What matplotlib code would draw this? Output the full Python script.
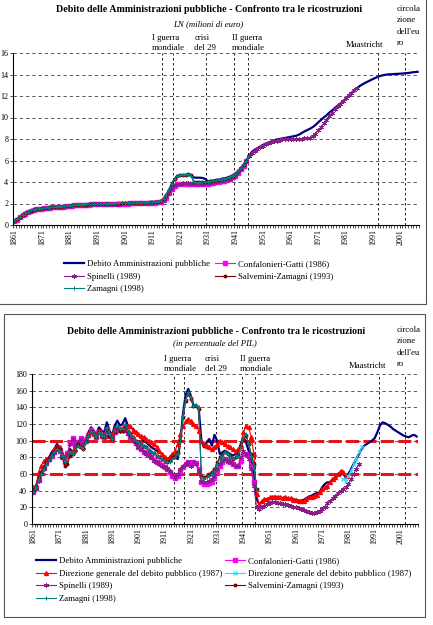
import matplotlib
matplotlib.use("Agg")
import matplotlib.pyplot as plt
import numpy as np
from matplotlib.patches import Rectangle

plt.rcParams['font.family'] = 'Liberation Serif'

W, H = 433, 625

# ---- data: top chart, LN (milioni di euro) ----
ln_debito_start = 1861
ln_debito = [
    0.40, 0.55, 0.75, 0.95, 1.10, 1.25, 1.35, 1.42, 1.48, 1.53,   # 1861-1870
    1.56, 1.58, 1.62, 1.64, 1.66, 1.68, 1.70, 1.72, 1.75, 1.78,   # 1871-1880
    1.80, 1.83, 1.86, 1.88, 1.89, 1.90, 1.91, 1.92, 1.93, 1.94,   # 1881-1890
    1.95, 1.96, 1.97, 1.98, 1.99, 2.00, 2.00, 2.01, 2.01, 2.02,   # 1891-1900
    2.03, 2.04, 2.05, 2.05, 2.06, 2.06, 2.07, 2.08, 2.09, 2.11,   # 1901-1910
    2.13, 2.15, 2.18, 2.25, 2.45, 2.80, 3.25, 3.80, 4.25, 4.55,   # 1911-1920
    4.62, 4.65, 4.66, 4.68, 4.65, 4.42, 4.40, 4.40, 4.38, 4.30,   # 1921-1930
    4.08, 4.10, 4.14, 4.18, 4.22, 4.28, 4.34, 4.40, 4.50, 4.62,   # 1931-1940
    4.78, 5.00, 5.30, 5.62, 6.00, 6.45, 6.80, 7.00, 7.15, 7.30,   # 1941-1950
    7.45, 7.58, 7.68, 7.78, 7.88, 7.95, 8.00, 8.05, 8.10, 8.15,   # 1951-1960
    8.20, 8.25, 8.30, 8.40, 8.55, 8.70, 8.82, 8.95, 9.10, 9.30,   # 1961-1970
    9.55, 9.78, 10.00, 10.20, 10.45, 10.65, 10.88, 11.10, 11.30, 11.50,  # 1971-1980
    11.75, 12.00, 12.25, 12.50, 12.72, 12.92, 13.08, 13.22, 13.35, 13.48,  # 1981-1990
    13.60, 13.72, 13.82, 13.90, 13.96, 14.00, 14.02, 14.04, 14.05, 14.06,  # 1991-2000
    14.08, 14.10, 14.12, 14.15, 14.20, 14.23, 14.25,                      # 2001-2007
]
ln_cg_start = 1861
ln_cg = [
    0.36, 0.50, 0.70, 0.90, 1.06, 1.20, 1.31, 1.38, 1.45, 1.50,
    1.53, 1.56, 1.59, 1.62, 1.64, 1.66, 1.68, 1.70, 1.72, 1.75,
    1.77, 1.80, 1.83, 1.85, 1.86, 1.87, 1.88, 1.90, 1.91, 1.92,
    1.93, 1.94, 1.95, 1.95, 1.96, 1.97, 1.97, 1.98, 1.98, 1.99,
    2.00, 2.00, 2.01, 2.01, 2.02, 2.02, 2.03, 2.04, 2.05, 2.06,
    2.07, 2.09, 2.11, 2.15, 2.28, 2.55, 2.95, 3.35, 3.62, 3.78,
    3.82, 3.84, 3.84, 3.83, 3.82, 3.80, 3.80, 3.81, 3.82, 3.84,
    3.86, 3.89, 3.93, 3.97, 4.02, 4.07, 4.13, 4.19, 4.28, 4.44,
    4.60, 4.85, 5.18, 5.52, 5.92,
]
ln_spinelli_start = 1861
ln_spinelli = [
    0.38, 0.52, 0.72, 0.92, 1.08, 1.22, 1.33, 1.40, 1.47, 1.52,
    1.55, 1.58, 1.61, 1.64, 1.66, 1.68, 1.70, 1.72, 1.74, 1.77,
    1.79, 1.82, 1.85, 1.87, 1.88, 1.89, 1.90, 1.92, 1.93, 1.94,
    1.95, 1.96, 1.97, 1.97, 1.98, 1.99, 1.99, 2.00, 2.00, 2.01,
    2.02, 2.02, 2.03, 2.03, 2.04, 2.04, 2.05, 2.06, 2.07, 2.08,
    2.09, 2.11, 2.13, 2.18, 2.32, 2.60, 3.00, 3.40, 3.68, 3.82,
    3.86, 3.88, 3.88, 3.87, 3.86, 3.84, 3.84, 3.85, 3.86, 3.87,
    3.89, 3.92, 3.96, 4.00, 4.05, 4.10, 4.16, 4.22, 4.32, 4.48,
    4.65, 4.90, 5.22, 5.58, 5.98, 6.40, 6.72, 6.92, 7.08, 7.22,
    7.36, 7.50, 7.62, 7.72, 7.80, 7.86, 7.92, 7.96, 7.98, 8.00,
    8.01, 8.02, 8.02, 8.03, 8.04, 8.06, 8.08, 8.12, 8.25, 8.50,
    8.80, 9.10, 9.45, 9.80, 10.10, 10.45, 10.75, 11.05, 11.30, 11.55,
    11.80, 12.05, 12.30, 12.55, 12.78,
]
ln_sz_start = 1861
ln_sz = [
    0.39, 0.54, 0.74, 0.94, 1.09, 1.24, 1.34, 1.41, 1.47, 1.52,
    1.55, 1.57, 1.61, 1.63, 1.65, 1.67, 1.69, 1.71, 1.74, 1.77,
    1.79, 1.82, 1.85, 1.87, 1.88, 1.89, 1.90, 1.91, 1.92, 1.93,
    1.94, 1.95, 1.96, 1.97, 1.98, 1.99, 1.99, 2.00, 2.00, 2.01,
    2.02, 2.03, 2.04, 2.04, 2.05, 2.05, 2.06, 2.07, 2.08, 2.10,
    2.12, 2.14, 2.17, 2.24, 2.44, 2.80, 3.25, 3.82, 4.30, 4.58,
    4.64, 4.66, 4.68, 4.70, 4.62, 3.98, 3.96, 3.96, 3.97, 3.99,
    4.02, 4.06, 4.10, 4.15, 4.20, 4.26, 4.32, 4.38, 4.48, 4.60,
    4.76, 4.98, 5.28, 5.60, 5.98, 6.42,
]
ln_zamagni_start = 1861
ln_zamagni = [
    0.40, 0.55, 0.75, 0.95, 1.10, 1.25, 1.35, 1.42, 1.48, 1.53,
    1.56, 1.58, 1.62, 1.64, 1.66, 1.68, 1.70, 1.72, 1.75, 1.78,
    1.80, 1.83, 1.86, 1.88, 1.89, 1.90, 1.91, 1.92, 1.93, 1.94,
    1.95, 1.96, 1.97, 1.98, 1.99, 2.00, 2.00, 2.01, 2.01, 2.02,
    2.03, 2.04, 2.05, 2.05, 2.06, 2.06, 2.07, 2.08, 2.09, 2.11,
    2.13, 2.15, 2.18, 2.25, 2.45, 2.82, 3.28, 3.84, 4.32, 4.60,
    4.65, 4.67, 4.69, 4.70, 4.60, 3.96, 3.95, 3.95, 3.96, 3.98,
    4.01, 4.05, 4.09, 4.14, 4.19, 4.25, 4.31, 4.37, 4.47, 4.60,
    4.76, 4.98, 5.28, 5.60, 5.98, 6.42,
]

# ---- data: bottom chart, in percentuale del PIL ----
pil_debito_start = 1861
pil_debito = [
    39, 45, 55, 62, 68, 75, 80, 86, 90, 96,          # 1861-1870
    92, 86, 78, 84, 90, 86, 92, 98, 94, 92,          # 1871-1880
    102, 110, 116, 112, 108, 116, 112, 110, 122, 112,  # 1881-1890
    106, 118, 124, 118, 120, 127, 118, 116, 114, 110,  # 1891-1900
    106, 104, 100, 98, 95, 92, 90, 88, 86, 84,       # 1901-1910
    80, 78, 80, 84, 80, 78, 100, 132, 155, 162,      # 1911-1920
    154, 142, 143, 138, 100, 92, 98, 102, 94, 107,   # 1921-1930
    100, 84, 86, 88, 86, 84, 82, 84, 86, 96,         # 1931-1940
    104, 98, 88, 76, 56, 30, 24, 26, 28, 30,         # 1941-1950
    30, 32, 33, 32, 31, 31, 32, 30, 30, 30,          # 1951-1960
    29, 28, 28, 29, 31, 33, 34, 36, 37, 38,          # 1961-1970
    44, 48, 50, 50, 54, 56, 58, 60, 60, 56,          # 1971-1980
    60, 66, 72, 78, 84, 90, 94, 96, 98, 100,         # 1981-1990
    103, 110, 118, 122, 121, 119, 117, 114, 112, 110,  # 1991-2000
    108, 106, 105, 104, 106, 107, 105,               # 2001-2007
]
pil_cg_start = 1861
pil_cg = [
    38, 43, 53, 61, 67, 73, 78, 82, 86, 91,
    88, 81, 75, 85, 97, 103, 95, 99, 103, 97,
    101, 107, 113, 109, 105, 111, 107, 105, 113, 107,
    105, 111, 115, 113, 113, 115, 109, 105, 101, 97,
    93, 90, 87, 85, 83, 81, 77, 75, 73, 71,
    69, 66, 62, 58, 55, 58, 64, 68, 72, 75,
    72, 75, 73, 66, 50, 48, 48, 49, 50, 55,
    64, 70, 74, 78, 76, 74, 72, 70, 70, 76,
    84, 84, 82, 70, 50,
]
pil_dgdp_start = 1861
pil_dgdp = [
    44, 44, 62, 70, 76, 78, 78, 84, 90, 94,
    92, 84, 76, 82, 86, 88, 90, 96, 94, 92,
    100, 108, 110, 108, 108, 112, 106, 108, 112, 106,
    108, 114, 116, 114, 116, 118, 118, 118, 112, 110,
    108, 106, 104, 102, 100, 98, 96, 92, 88, 84,
    80, 78, 80, 84, 88, 96, 108, 118, 124, 126,
    124, 120, 118, 112, 100, 96, 94, 92, 90, 92,
    96, 100, 98, 96, 94, 92, 90, 88, 90, 94,
    110, 118, 116, 104, 84, 36, 24, 28, 30, 30,
    32, 32, 33, 32, 32, 31, 32, 31, 31, 29,
    29, 28, 28, 28, 30, 32, 33, 34, 35, 38,
    42, 44, 46, 50, 54, 56, 60, 64, 63, 58,
]
pil_dgdp_b_start = 1979
pil_dgdp_b = [54, 52, 58, 64, 72, 78, 86, 92]
pil_spinelli_start = 1861
pil_spinelli = [
    38, 42, 52, 60, 66, 72, 78, 82, 86, 90,
    88, 80, 74, 84, 96, 102, 94, 98, 102, 96,
    100, 106, 112, 108, 104, 110, 106, 104, 112, 106,
    104, 110, 114, 112, 112, 114, 108, 104, 100, 96,
    92, 90, 86, 84, 82, 80, 76, 74, 72, 70,
    68, 66, 64, 60, 56, 60, 66, 70, 72, 74,
    70, 74, 72, 64, 52, 50, 50, 52, 54, 58,
    66, 72, 76, 78, 76, 74, 72, 70, 70, 80,
    88, 84, 78, 66, 46, 20, 18, 20, 22, 24,
    25, 26, 26, 25, 25, 24, 24, 23, 22, 21,
    20, 19, 18, 17, 16, 14, 13, 13, 14, 16,
    18, 21, 25, 28, 31, 34, 37, 40, 42, 44,
    48, 54, 60, 66, 72,
]
pil_sz_start = 1861
pil_sz = [
    40, 46, 56, 62, 68, 74, 79, 84, 88, 92,
    90, 80, 70, 72, 82, 84, 88, 96, 92, 90,
    100, 106, 112, 108, 104, 110, 106, 106, 114, 106,
    102, 110, 116, 112, 112, 118, 112, 108, 104, 100,
    98, 96, 94, 92, 89, 87, 85, 82, 80, 78,
    76, 75, 76, 80, 82, 86, 100, 128, 148, 156,
    150, 142, 142, 138, 58, 56, 58, 60, 62, 66,
    74, 80, 84, 86, 84, 80, 78, 80, 84, 94,
    102, 106, 96, 84, 72, 42,
]
pil_zamagni_start = 1861
pil_zamagni = [
    38, 44, 54, 60, 66, 72, 77, 82, 86, 90,
    88, 82, 74, 80, 86, 84, 88, 94, 92, 90,
    98, 106, 112, 108, 104, 110, 106, 106, 116, 108,
    102, 112, 118, 114, 114, 120, 112, 108, 104, 100,
    98, 96, 94, 92, 89, 87, 85, 82, 80, 78,
    76, 74, 74, 78, 80, 84, 98, 130, 150, 158,
    152, 142, 143, 140, 56, 54, 56, 58, 60, 64,
    72, 78, 82, 86, 84, 80, 78, 80, 82, 92,
    104, 108, 96, 82, 70, 40,
]

label_years = list(range(1861, 2002, 10))
event_years = [1914, 1918, 1930, 1940, 1945, 1992, 2002]
soglie_pil = [60, 100]

# series styles, in Excel series order
styles = {
    'debito':   dict(color='#000080', lw=1.6),
    'cg':       dict(color='#ff00ff', lw=0.8, marker='s', ms=2.2, mec='#ff00ff'),
    'dgdp':     dict(color='#ff0000', lw=0.8, marker='^', ms=2.8, mec='#ff0000'),
    'dgdp_b':   dict(color='#33d6f0', lw=0.8, marker='x', ms=3.0, mew=0.8),
    'spinelli': dict(color='#8a1f8a', lw=0.8, marker=(6, 2, 0), ms=3.4, mew=0.6),
    'sz':       dict(color='#800000', lw=0.8, marker='o', ms=1.8),
    'zamagni':  dict(color='#008080', lw=0.8, marker='+', ms=3.2, mew=0.7),
}
lab = {
    'debito': 'Debito Amministrazioni pubbliche',
    'cg': 'Confalonieri-Gatti (1986)',
    'dgdp': 'Direzione generale del debito pubblico (1987)',
    'dgdp_b': 'Direzione generale del debito pubblico (1987)',
    'spinelli': 'Spinelli (1989)',
    'sz': 'Salvemini-Zamagni (1993)',
    'zamagni': 'Zamagni (1998)',
}


def fx(px):
    return px / W


def fy(py):
    return 1 - py / H


def serie(ax, key, start, values):
    years = np.arange(start, start + len(values))
    line, = ax.plot(years, values, label=lab[key], **styles[key])
    return line


def style_axis(ax, ymax, ystep):
    ax.set_xlim(1860.5, 2007.5)
    ax.set_ylim(0, ymax)
    ax.set_yticks(np.arange(0, ymax + 1, ystep))
    ax.set_xticks(label_years)
    ax.set_xticklabels([str(y) for y in label_years], rotation=90)
    ax.set_xticks(np.arange(1860.5, 2008, 1), minor=True)
    ax.tick_params(axis='x', which='major', length=0, labelsize=5.8, pad=3)
    ax.tick_params(axis='x', which='minor', length=2.5, width=0.5, direction='out')
    ax.tick_params(axis='y', length=2, width=0.5, labelsize=5.8, pad=1.5)
    for s in ('top', 'right'):
        ax.spines[s].set_visible(False)
    for s in ('left', 'bottom'):
        ax.spines[s].set_linewidth(0.8)
    ax.yaxis.grid(True, linestyle=(0, (4, 3.5)), color='#404040', lw=0.6)
    ax.set_axisbelow(True)
    for ev in event_years:
        ax.axvline(ev + 0.5, color='black', linestyle=(0, (3, 3)), lw=0.6, zorder=1)
    ax.set_facecolor('white')


def eventi(ax, ax_h):
    tr = ax.get_xaxis_transform()
    kw = dict(transform=tr, fontsize=6.3, va='bottom', ha='left')
    ax.text(1910.7, 1 + 1 / ax_h, 'I guerra\nmondiale', linespacing=1.4, **kw)
    ax.text(1926.2, 1 + 1 / ax_h, 'crisi\ndel 29', linespacing=1.4, **kw)
    ax.text(1939.7, 1 + 1 / ax_h, 'II guerra\nmondiale', linespacing=1.4, **kw)
    ax.text(1981.1, 1 + 4 / ax_h, 'Maastricht', **kw)
    ax.text(1999.5, 1 + 6 / ax_h, "circola\nzione\ndell'eu\nro", linespacing=1.55, **kw)


fig = plt.figure(figsize=(W / 100, H / 100), dpi=100)

# ---------- top chart ----------
ax1 = fig.add_axes([fx(13), fy(225), (419 - 13) / W, (225 - 53) / H])
style_axis(ax1, 16, 2)
h_deb = serie(ax1, 'debito', ln_debito_start, ln_debito)
h_cg = serie(ax1, 'cg', ln_cg_start, ln_cg)
h_sp = serie(ax1, 'spinelli', ln_spinelli_start, ln_spinelli)
h_sz = serie(ax1, 'sz', ln_sz_start, ln_sz)
h_za = serie(ax1, 'zamagni', ln_zamagni_start, ln_zamagni)
eventi(ax1, 225 - 53)

fig.text(fx(209), fy(10), 'Debito delle Amministrazioni pubbliche - Confronto tra le ricostruzioni',
         ha='center', va='center', fontsize=7.2, fontweight='bold')
fig.text(fx(208), fy(24), 'LN (milioni di euro)', ha='center', va='center',
         fontsize=6.3, style='italic')

hs = [h_deb, h_sp, h_za, h_cg, h_sz]
ax1.legend(hs, [h.get_label() for h in hs], ncol=2, loc='upper left',
           bbox_to_anchor=(fx(64), fy(260)), bbox_transform=fig.transFigure,
           frameon=False, fontsize=6.3, handlelength=2.3, handletextpad=0.3,
           columnspacing=0.6, labelspacing=0.5, borderpad=0, borderaxespad=0)

fig.add_artist(Rectangle((fx(-2), fy(304)), (426 + 2) / W, (304 + 2) / H,
                         transform=fig.transFigure, fill=False, ec='#555555', lw=0.8))

# ---------- bottom chart ----------
ax2 = fig.add_axes([fx(32), fy(524), (418 - 32) / W, (524 - 374) / H])
style_axis(ax2, 180, 20)
for s in soglie_pil:
    ax2.axhline(s, color='#e3141c', lw=2.2, dashes=(4.3, 1.4), zorder=1.5)
g_deb = serie(ax2, 'debito', pil_debito_start, pil_debito)
g_cg = serie(ax2, 'cg', pil_cg_start, pil_cg)
g_dg = serie(ax2, 'dgdp', pil_dgdp_start, pil_dgdp)
g_db = serie(ax2, 'dgdp_b', pil_dgdp_b_start, pil_dgdp_b)
g_sp = serie(ax2, 'spinelli', pil_spinelli_start, pil_spinelli)
g_sz = serie(ax2, 'sz', pil_sz_start, pil_sz)
g_za = serie(ax2, 'zamagni', pil_zamagni_start, pil_zamagni)
eventi(ax2, 524 - 374)

fig.text(fx(216), fy(332), 'Debito delle Amministrazioni pubbliche - Confronto tra le ricostruzioni',
         ha='center', va='center', fontsize=7.0, fontweight='bold')
fig.text(fx(215), fy(344), '(in percentuale del PIL)', ha='center', va='center',
         fontsize=6.3, style='italic')

gs = [g_deb, g_dg, g_sp, g_za, g_cg, g_db, g_sz]
ax2.legend(gs, [g.get_label() for g in gs], ncol=2, loc='upper left',
           bbox_to_anchor=(fx(36), fy(557)), bbox_transform=fig.transFigure,
           frameon=False, fontsize=6.3, handlelength=2.3, handletextpad=0.3,
           columnspacing=0.3, labelspacing=0.5, borderpad=0, borderaxespad=0)

fig.add_artist(Rectangle((fx(4), fy(617)), (425 - 4) / W, (617 - 314) / H,
                         transform=fig.transFigure, fill=False, ec='#555555', lw=0.8))

fig.savefig('out.png', dpi=100)
